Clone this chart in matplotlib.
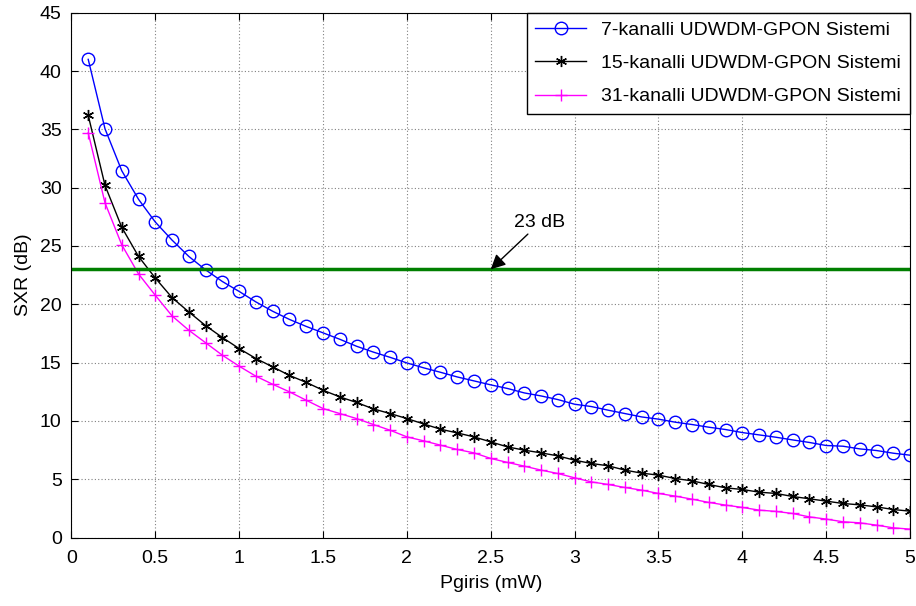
import matplotlib
matplotlib.use("Agg")
import matplotlib.pyplot as plt
import numpy as np

plt.rcParams['font.family'] = ['Liberation Sans Narrow', 'Liberation Sans', 'DejaVu Sans']

# giris gucu (mW)
pgiris = [round(0.1 * i, 1) for i in range(1, 51)]

sxr_7 = [41.0, 35.05, 31.45, 29.0, 27.05, 25.5, 24.1, 22.95, 21.95, 21.1,
         20.2, 19.4, 18.7, 18.1, 17.55, 17.0, 16.4, 15.9, 15.45, 14.97,
         14.55, 14.17, 13.77, 13.43, 13.09, 12.78, 12.4, 12.14, 11.83, 11.43,
         11.23, 10.92, 10.63, 10.34, 10.15, 9.89, 9.69, 9.46, 9.26, 9.0,
         8.8, 8.6, 8.37, 8.15, 7.89, 7.83, 7.6, 7.46, 7.23, 7.06]

sxr_15 = [36.2, 30.2, 26.6, 24.1, 22.25, 20.57, 19.34, 18.17, 17.15, 16.2,
          15.35, 14.63, 13.9, 13.3, 12.63, 12.06, 11.58, 11.03, 10.63, 10.2,
          9.74, 9.29, 8.97, 8.63, 8.2, 7.77, 7.49, 7.26, 7.0, 6.63,
          6.35, 6.15, 5.78, 5.52, 5.35, 5.06, 4.86, 4.55, 4.26, 4.12,
          3.89, 3.78, 3.52, 3.32, 3.12, 2.92, 2.8, 2.63, 2.4, 2.26]

sxr_31 = [34.7, 28.7, 25.1, 22.6, 20.77, 19.0, 17.77, 16.7, 15.63, 14.69,
          13.83, 13.14, 12.49, 11.77, 11.06, 10.63, 10.2, 9.69, 9.2, 8.63,
          8.29, 7.92, 7.55, 7.26, 6.78, 6.44, 6.12, 5.78, 5.49, 5.12,
          4.77, 4.55, 4.29, 4.06, 3.78, 3.55, 3.29, 3.01, 2.78, 2.58,
          2.35, 2.24, 2.06, 1.77, 1.58, 1.35, 1.26, 1.06, 0.83, 0.72]

esik = 23
etiketler = ['7-kanalli UDWDM-GPON Sistemi',
             '15-kanalli UDWDM-GPON Sistemi',
             '31-kanalli UDWDM-GPON Sistemi']

fig = plt.figure(figsize=(9.16, 6.06), dpi=100)
ax = fig.add_axes([0.078, 0.113, 0.9155, 0.866])

ax.plot(pgiris, sxr_7, color='#0000ff', lw=1, marker='o', ms=9,
        mfc='none', mec='#0000ff', mew=1, label=etiketler[0])
ax.plot(pgiris, sxr_15, color='black', lw=1, marker=(6, 2, 0), ms=8,
        mew=1, label=etiketler[1])
ax.plot(pgiris, sxr_31, color='#ff00ff', lw=1, marker='+', ms=8,
        mew=1, label=etiketler[2])
ax.axhline(esik, color='#007f00', lw=2.5)

ax.annotate('23 dB', xy=(2.5, 23.0), xytext=(2.64, 26.6), fontsize=14,
            arrowprops=dict(arrowstyle='-|>', color='black', lw=1,
                            mutation_scale=22, shrinkA=0, shrinkB=0))

ax.set_xlim(0, 5)
ax.set_ylim(0, 45)
ax.set_xticks(np.arange(0, 5.01, 0.5))
ax.set_xticklabels(['0', '0.5', '1', '1.5', '2', '2.5', '3', '3.5', '4', '4.5', '5'])
ax.set_yticks(np.arange(0, 46, 5))
ax.tick_params(direction='in', top=True, right=True, labelsize=14, length=5)
ax.tick_params(axis='x', pad=9)
ax.tick_params(axis='y', pad=7)
ax.grid(True, color='#808080', linestyle=(0, (1, 2)), lw=0.8)
ax.set_xlabel('Pgiris (mW)', fontsize=14, labelpad=6)
ax.set_ylabel('SXR (dB)', fontsize=14, labelpad=6)

leg = ax.legend(loc='upper right', fontsize=14, fancybox=False, framealpha=1,
                edgecolor='black', borderaxespad=0, handlelength=2.6,
                labelspacing=0.8, borderpad=0.45)
leg.get_frame().set_linewidth(1)

fig.savefig('out.png', dpi=100)
